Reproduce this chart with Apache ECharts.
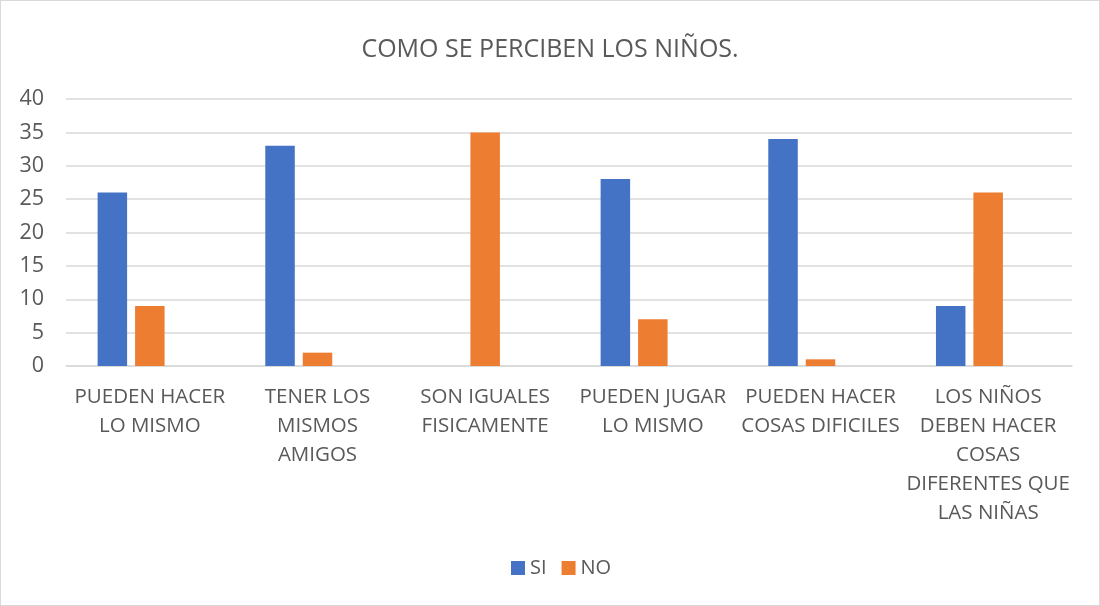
<!DOCTYPE html>
<html>
<head>
<meta charset="utf-8">
<script src="https://cdn.jsdelivr.net/npm/echarts@6/dist/echarts.min.js"></script>
<style>
    html, body { margin: 0; padding: 0; background: #fff; }
    #chart { width: 1098px; height: 604px; border: 1px solid #d9d9d9; }
</style>
</head>
<body>
<div id="chart"></div>
<script>
// datos
const categorias = [
    'PUEDEN HACER\nLO MISMO',
    'TENER LOS\nMISMOS\nAMIGOS',
    'SON IGUALES\nFISICAMENTE',
    'PUEDEN JUGAR\nLO MISMO',
    'PUEDEN HACER\nCOSAS DIFICILES',
    'LOS NIÑOS\nDEBEN HACER\nCOSAS\nDIFERENTES QUE\nLAS NIÑAS'
];
const si = [26, 33, null, 28, 34, 9];
const no = [9, 2, 35, 7, 1, 26];
// tercera serie vacía (hueco en cada grupo, como en el original)
const vacia = [null, null, null, null, null, null];
const ticksY = [0, 5, 10, 15, 20, 25, 30, 35, 40];

const fuente = '"Open Sans", "Noto Sans", sans-serif';
const gris = '#595959';

const chart = echarts.init(document.getElementById('chart'));
chart.setOption({
    animation: false,
    title: {
        text: 'COMO SE PERCIBEN LOS NIÑOS.',
        left: 'center',
        top: 31,
        textStyle: { fontFamily: fuente, fontSize: 25, fontWeight: 'normal', color: gris }
    },
    legend: {
        data: ['SI', 'NO'],
        bottom: 22,
        left: 505,
        icon: 'rect',
        itemWidth: 14,
        itemHeight: 14,
        itemGap: 15,
        textStyle: { fontFamily: fuente, fontSize: 20, color: gris }
    },
    grid: {
        left: 65,
        right: 27,
        top: 98,
        bottom: 239
    },
    xAxis: {
        type: 'category',
        data: categorias,
        axisLine: { lineStyle: { color: '#d9d9d9', width: 1.5 } },
        axisTick: { show: false },
        axisLabel: {
            fontFamily: fuente,
            fontSize: 20.5,
            color: gris,
            lineHeight: 29,
            margin: 17,
            interval: 0
        }
    },
    yAxis: {
        type: 'value',
        min: ticksY[0],
        max: ticksY[ticksY.length - 1],
        interval: 5,
        axisLine: { show: false },
        axisTick: { show: false },
        splitLine: { lineStyle: { color: '#d9d9d9', width: 1.5 } },
        axisLabel: {
            fontFamily: fuente,
            fontSize: 21.5,
            color: gris,
            margin: 22
        }
    },
    series: [
        {
            name: 'SI',
            type: 'bar',
            data: si,
            itemStyle: { color: '#4472C4' },
            barWidth: 29.5,
            barGap: '27%',
            barCategoryGap: '37.6%'
        },
        {
            name: 'NO',
            type: 'bar',
            data: no,
            itemStyle: { color: '#ED7D31' },
            barWidth: 29.5
        },
        {
            name: 'vacia',
            type: 'bar',
            data: vacia,
            barWidth: 29.5
        }
    ]
});
</script>
</body>
</html>
